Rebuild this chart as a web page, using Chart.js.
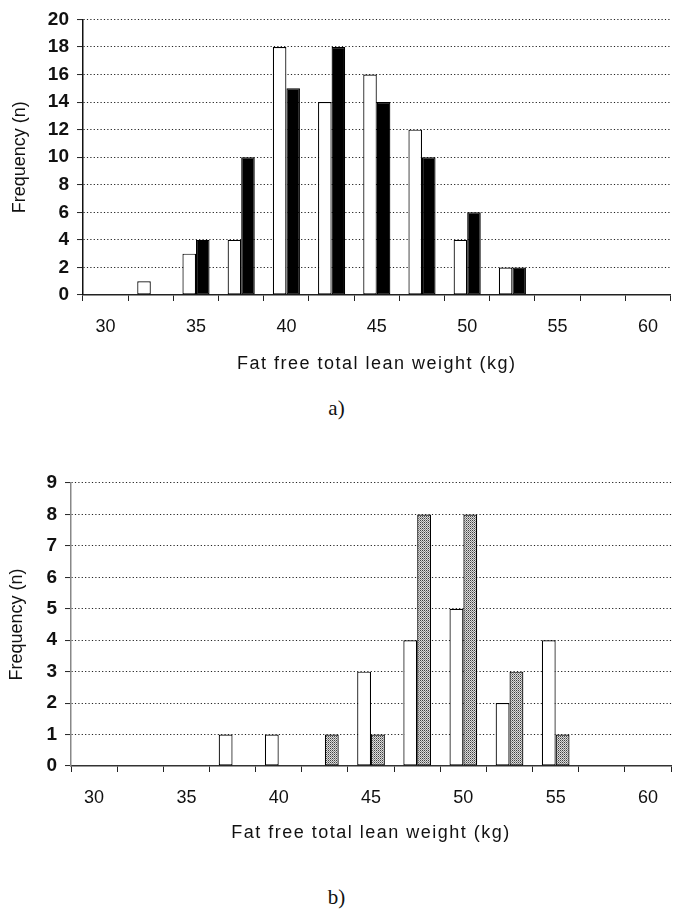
<!DOCTYPE html>
<html><head><meta charset="utf-8">
<script src="https://cdn.jsdelivr.net/npm/chart.js@4"></script>
<style>
html,body{margin:0;padding:0;background:#fff;width:673px;height:915px;overflow:hidden}
.wrap{position:absolute;left:0;width:673px}
.cap{position:absolute;left:0;width:673px;text-align:center;font-family:"Liberation Serif","Times New Roman",serif;font-size:21px;color:#111;line-height:24px}
</style></head><body>
<div class="wrap" style="top:0;height:385px"><canvas id="ca" width="673" height="385"></canvas></div>
<div class="cap" style="top:396px">a)</div>
<div class="wrap" style="top:440px;height:405px"><canvas id="cb" width="673" height="405"></canvas></div>
<div class="cap" style="top:885px">b)</div>
<script>
// ---- data ----
const categories = [30, 32.5, 35, 37.5, 40, 42.5, 45, 47.5, 50, 52.5, 55, 57.5, 60];
const aWhite  = [0, 1, 3, 4, 18, 14, 16, 12, 4, 2, 0, 0, 0];
const aBlack  = [0, 0, 4, 10, 15, 18, 14, 10, 6, 2, 0, 0, 0];
const bWhite  = [0, 0, 0, 1, 1, 0, 3, 4, 5, 2, 4, 0, 0];
const bDotted = [0, 0, 0, 0, 0, 1, 1, 8, 8, 3, 1, 0, 0];
const aYRange = [0, 20, 2];
const bYRange = [0, 9, 1];
const xTitle = 'Fat free total lean weight (kg)';
const yTitle = 'Frequency (n)';

function dotPattern() {
  const c = document.createElement('canvas');
  c.width = 2; c.height = 2;
  const g = c.getContext('2d');
  g.fillStyle = '#dcdcdc'; g.fillRect(0, 0, 2, 2);
  g.fillStyle = '#404040'; g.fillRect(0, 0, 1, 1);
  g.fillStyle = '#8a8a8a'; g.fillRect(1, 1, 1, 1);
  return g.createPattern(c, 'repeat');
}

// widen the letter spacing of the x-axis title only
const spacedTitle = {
  id: 'spacedTitle',
  beforeDraw(chart) {
    const sx = chart.scales.x;
    if (!sx || sx._spacedPatched) return;
    const orig = sx.drawTitle;
    sx.drawTitle = function () {
      const c = this.ctx;
      c.save();
      c.letterSpacing = '1.5px';
      orig.call(this);
      c.restore();
    };
    sx._spacedPatched = true;
  }
};

const sans = "'Liberation Sans', Arial, sans-serif";

function makeChart(id, s1, s2, fill2, yr, cfg) {
  const ctx = document.getElementById(id).getContext('2d');
  return new Chart(ctx, {
    type: 'bar',
    plugins: [spacedTitle],
    data: {
      labels: categories,
      datasets: [
        { data: s1, backgroundColor: '#fff', borderColor: '#000', borderWidth: 1.2, borderSkipped: false,
          categoryPercentage: 0.6, barPercentage: 1 },
        { data: s2, backgroundColor: fill2, borderColor: '#000', borderWidth: 1.2, borderSkipped: false,
          categoryPercentage: 0.6, barPercentage: 1 }
      ]
    },
    options: {
      responsive: false, animation: false, events: [], devicePixelRatio: 1,
      layout: { padding: { top: cfg.padTop, right: 0, left: 0, bottom: 0 } },
      plugins: { legend: { display: false }, tooltip: { enabled: false } },
      scales: {
        x: {
          type: 'category', offset: true,
          grid: { offset: true, drawOnChartArea: false, drawTicks: true, tickLength: 6,
                  color: '#000', tickColor: '#222', tickWidth: 1, tickBorderDash: [] },
          border: { display: true, color: cfg.xAxisColor, width: 1.5 },
          ticks: { autoSkip: false, maxRotation: 0, minRotation: 0, padding: cfg.xTickPad, color: '#111',
                   font: { family: sans, size: 18 },
                   callback: (v, i) => (categories[i] % 5 === 0 ? String(categories[i]) : '') },
          title: { display: true, text: xTitle, color: '#111', font: { family: sans, size: 18 },
                   padding: { top: 0, bottom: cfg.xTitlePad } },
          afterFit: (s) => { s.height = cfg.xHeight; }
        },
        y: {
          min: yr[0], max: yr[1],
          ticks: { stepSize: yr[2], padding: 8, color: '#111', font: { family: sans, size: 19, weight: 'bold' } },
          grid: { color: '#222', lineWidth: 1.1, tickLength: 6, tickColor: '#222', tickWidth: 1, tickBorderDash: [] },
          border: { display: true, color: cfg.yAxisColor, width: 1.5, dash: [1.2, 2.2] },
          title: { display: true, text: yTitle, color: '#111', font: { family: sans, size: 18 },
                   padding: { top: cfg.yTitlePad, bottom: 0 } },
          afterFit: (s) => { s.width = cfg.yWidth; }
        }
      }
    }
  });
}

makeChart('ca', aWhite, aBlack, '#000', aYRange,
  { padTop: 14, xHeight: 90, yWidth: 83, xTickPad: 15, xTitlePad: 10, yTitlePad: 9, xAxisColor: '#222', yAxisColor: '#111' });
makeChart('cb', bWhite, bDotted, dotPattern(), bYRange,
  { padTop: 43, xHeight: 79, yWidth: 71, xTickPad: 15, xTitlePad: 1, yTitlePad: 6, xAxisColor: '#333', yAxisColor: '#888' });
</script>
</body></html>
